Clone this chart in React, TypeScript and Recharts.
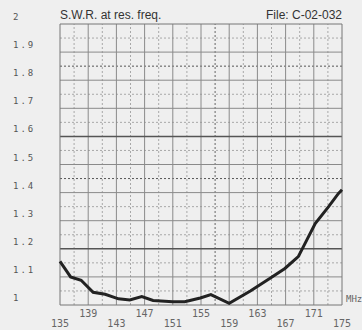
import { LineChart, Line, XAxis, YAxis, ReferenceLine } from "recharts";

const freqs = [135, 136.5, 138, 139.7, 141.4, 143.3, 144.9, 146.6, 148.2, 151, 152.7, 154.9, 156.4, 159, 162, 164.8, 166.9, 168.8, 171.2, 173.1, 174.5, 175];
const swr = [1.155, 1.1, 1.088, 1.045, 1.038, 1.022, 1.018, 1.03, 1.016, 1.012, 1.012, 1.025, 1.037, 1.006, 1.05, 1.095, 1.13, 1.172, 1.29, 1.35, 1.397, 1.41];

const xTicks = [135, 139, 143, 147, 151, 155, 159, 163, 167, 171, 175];
const yTicks = [1, 1.1, 1.2, 1.3, 1.4, 1.5, 1.6, 1.7, 1.8, 1.9, 2];

const data = freqs.map((f, i) => ({ f, swr: swr[i] }));

// grid: solid every 0.1 / 4 MHz, dotted in between
const hSolid = [1.1, 1.3, 1.4, 1.5, 1.7, 1.8, 1.9];
const hThick = [1.2, 1.6];
const hDot = [1.05, 1.15, 1.25, 1.35, 1.55, 1.65, 1.75, 1.95];
const hDotDark = [1.45, 1.85];
const vSolid = [139, 143, 147, 151, 155, 159, 163, 167, 171];
const vDot = [137, 141, 145, 149, 153, 161, 165, 169, 173];
const vDotDark = [157];

const mono = "'DejaVu Sans Mono', monospace";

const YTick = (props: any) => {
  const { y, payload } = props;
  const v = payload.value;
  const label = v === 1 || v === 2 ? String(v) : v.toFixed(1);
  return (
    <text x={13} y={y - 4} fontSize={9} fill="#555" fontFamily={mono} letterSpacing={2} textAnchor="start">
      {label}
    </text>
  );
};

const XTick = (props: any) => {
  const { x, payload, index } = props;
  const low = index % 2 === 0;
  return (
    <text x={x} y={low ? 327 : 317} fontSize={10} fill="#666" fontFamily={mono} textAnchor="middle">
      {payload.value}
    </text>
  );
};

export default function App() {
  return (
    <div style={{ position: "absolute", left: 0, top: 0, width: 362, height: 330, background: "#efefef" }}>
      <LineChart width={362} height={330} data={data} margin={{ top: 24, right: 20, left: 0, bottom: 0 }}>
        <XAxis
          dataKey="f"
          type="number"
          domain={[135, 175]}
          ticks={xTicks}
          interval={0}
          height={25}
          axisLine={false}
          tickLine={false}
          tick={<XTick />}
        />
        <YAxis
          type="number"
          domain={[1, 2]}
          ticks={yTicks}
          interval={0}
          width={60}
          axisLine={false}
          tickLine={false}
          tick={<YTick />}
        />
        {hDot.map((v) => (
          <ReferenceLine key={"hd" + v} y={v} stroke="#a8a8a8" strokeDasharray="2 2" />
        ))}
        {vDot.map((v) => (
          <ReferenceLine key={"vd" + v} x={v} stroke="#a8a8a8" strokeDasharray="2 2" />
        ))}
        {hDotDark.map((v) => (
          <ReferenceLine key={"hdd" + v} y={v} stroke="#555" strokeDasharray="2 2" />
        ))}
        {vDotDark.map((v) => (
          <ReferenceLine key={"vdd" + v} x={v} stroke="#666" strokeDasharray="2 2" />
        ))}
        {hSolid.map((v) => (
          <ReferenceLine key={"hs" + v} y={v} stroke="#8a8a8a" />
        ))}
        {vSolid.map((v) => (
          <ReferenceLine key={"vs" + v} x={v} stroke="#8a8a8a" />
        ))}
        {hThick.map((v) => (
          <ReferenceLine key={"ht" + v} y={v} stroke="#555" strokeWidth={1.5} />
        ))}
        <ReferenceLine y={1} stroke="#777" />
        <ReferenceLine y={2} stroke="#777" />
        <ReferenceLine x={135} stroke="#777" />
        <ReferenceLine x={175} stroke="#777" />
        <Line
          dataKey="swr"
          type="linear"
          stroke="#222"
          strokeWidth={3}
          dot={false}
          isAnimationActive={false}
        />
        <text x={60} y={19} fontSize={12} fill="#333" fontFamily="'Liberation Sans', sans-serif">
          S.W.R. at res. freq.
        </text>
        <text x={342} y={19} fontSize={12} fill="#333" textAnchor="end" fontFamily="'Liberation Sans', sans-serif">
          File: C-02-032
        </text>
        <text x={346} y={302} fontSize={9} fill="#666" fontFamily={mono}>
          MHz
        </text>
      </LineChart>
    </div>
  );
}
